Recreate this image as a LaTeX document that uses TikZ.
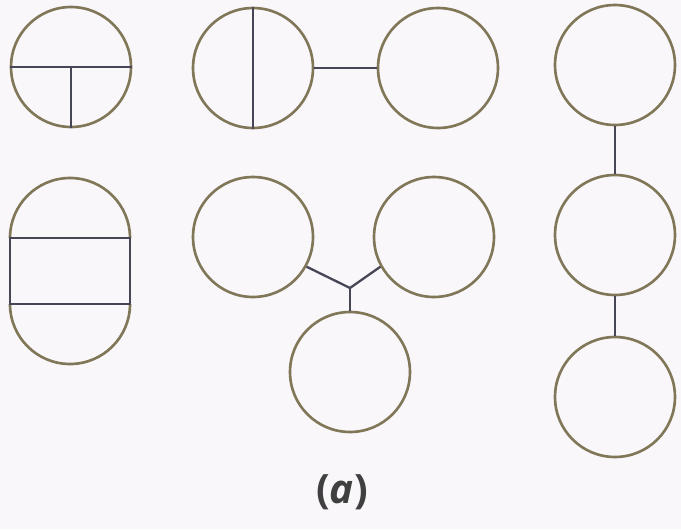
\documentclass[tikz,border=0pt]{standalone}
\usepackage{fontspec}
\newfontfamily\labelfont{Open Sans}
\usepackage{tikz}
\usetikzlibrary{calc}
\usepackage{xcolor}
\definecolor{rim}{RGB}{128,118,88}
\definecolor{bond}{RGB}{70,70,86}
\definecolor{paper}{RGB}{250,247,250}

\begin{document}
\begin{tikzpicture}[x=0.02cm,y=0.02cm,
  ring/.style={circle,draw=rim,line width=1.5pt,minimum size=2.4cm,inner sep=0pt},
  rimline/.style={rim,line width=1.5pt},
  chord/.style={bond,line width=1.3pt},
  lbl/.style={font=\labelfont\bfseries\fontsize{23}{27}\selectfont,text=black!75}]
\fill[paper] (0,0) rectangle (681,529);
\useasboundingbox (0,0) rectangle (681,529);
% top row
\node[ring](ta) at (71,462){};
\draw[chord] (ta.west)--(ta.east);
\draw[chord] (ta.center)--(ta.south);
\node[ring](tb) at (253,461){};
\draw[chord] (tb.north)--(tb.south);
\node[ring](tc) at (438,461){};
\draw[chord] (tb.east)--(tc.west);
% stadium
\coordinate(s1) at (10,291);\coordinate(s2) at (130,291);
\coordinate(s3) at (130,225);\coordinate(s4) at (10,225);
\draw[rimline] (s1) arc[start angle=180,end angle=0,radius=60];
\draw[rimline] (s3) arc[start angle=0,end angle=-180,radius=60];
\draw[chord] (s1)--(s2)--(s3)--(s4)--cycle;
% three joined at a point
\node[ring](ma) at (253,292){};
\node[ring](mb) at (434,292){};
\node[ring](mc) at (350,157){};
\coordinate(y) at (350,241);
\draw[chord] (ma.-29)--(y)--(mb.209);
\draw[chord] (y)--(mc.north);
% chain of three
\node[ring](ra) at (615,464){};
\node[ring](rb) at (615,294){};
\node[ring](rc) at (615,132){};
\draw[chord] (ra.south)--(rb.north);
\draw[chord] (rb.south)--(rc.north);
\node[lbl](lab) at (342,37){(\textit{a})};
\end{tikzpicture}
\end{document}
